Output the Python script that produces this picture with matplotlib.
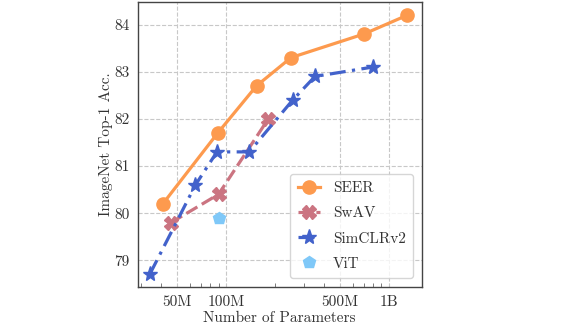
import numpy as np
import matplotlib
matplotlib.use("Agg")
import matplotlib.pyplot as plt
from matplotlib.ticker import NullFormatter, LogLocator

# parameters in millions, top-1 accuracy
seer_params = [41, 89, 154, 251, 703, 1300]
seer_acc = [80.2, 81.7, 82.7, 83.3, 83.8, 84.2]

swav_params = [46, 90, 182]
swav_acc = [79.8, 80.4, 82.0]

simclr_params = [34, 65, 88, 139, 257, 352, 800]
simclr_acc = [78.7, 80.6, 81.3, 81.3, 82.4, 82.9, 83.1]

vit_params = [90]
vit_acc = [79.9]

xticks = [50, 100, 500, 1000]
xtick_labels = ["50M", "100M", "500M", "1B"]
yticks = [79, 80, 81, 82, 83, 84]

plt.rcParams["font.family"] = ["cmr10", "DejaVu Serif"]
plt.rcParams["mathtext.fontset"] = "cm"
plt.rcParams["axes.formatter.use_mathtext"] = True

fig = plt.figure(figsize=(5.76, 3.24), dpi=100)
ax = fig.add_axes([0.239, 0.115, 0.493, 0.879])

ax.plot(seer_params, seer_acc, "-o", color="#FD9A4E", lw=2.3, ms=9.5, label="SEER", zorder=4)
ax.plot(swav_params, swav_acc, "--X", color="#CB7481", lw=2.3, ms=9.5, label="SwAV", zorder=3,
        dashes=(4, 1.6))
ax.plot(simclr_params, simclr_acc, "-.*", color="#4262CB", lw=2.3, ms=11, label="SimCLRv2", zorder=3,
        dashes=(5, 2, 1, 2))
ax.plot(vit_params, vit_acc, "p", color="#7FC8F8", ms=9, label="ViT", zorder=3)

ax.set_xscale("log")
ax.set_xlim(28.7, 1590)
ax.set_ylim(78.44, 84.48)
ax.set_xticks(xticks)
ax.set_xticklabels(xtick_labels)
ax.xaxis.set_minor_locator(LogLocator(base=10, subs=np.arange(2, 10)))
ax.xaxis.set_minor_formatter(NullFormatter())
ax.set_yticks(yticks)
ax.set_yticklabels([str(v) for v in yticks])
ax.tick_params(which="major", length=0, labelsize=11, colors="#333333", pad=6)
ax.tick_params(axis="x", which="minor", direction="in", length=3, width=0.6, color="#666666")

ax.grid(True, which="major", ls="--", color="#c8c8c8", lw=0.8)
ax.set_axisbelow(True)
for s in ax.spines.values():
    s.set_color("#444444")
    s.set_linewidth(1.0)

ax.set_xlabel("Number of Parameters", fontsize=11, color="#333333", labelpad=2)
ax.set_ylabel("ImageNet Top-1 Acc.", fontsize=11, color="#333333", labelpad=1)

leg = ax.legend(loc="lower right", fontsize=11, frameon=True, fancybox=True,
                borderpad=0.5, labelspacing=0.75, handlelength=1.5, handletextpad=0.8,
                borderaxespad=0.55)
leg.get_frame().set_edgecolor("#cccccc")
for t in leg.get_texts():
    t.set_color("#333333")

fig.savefig("out.png", dpi=100)
